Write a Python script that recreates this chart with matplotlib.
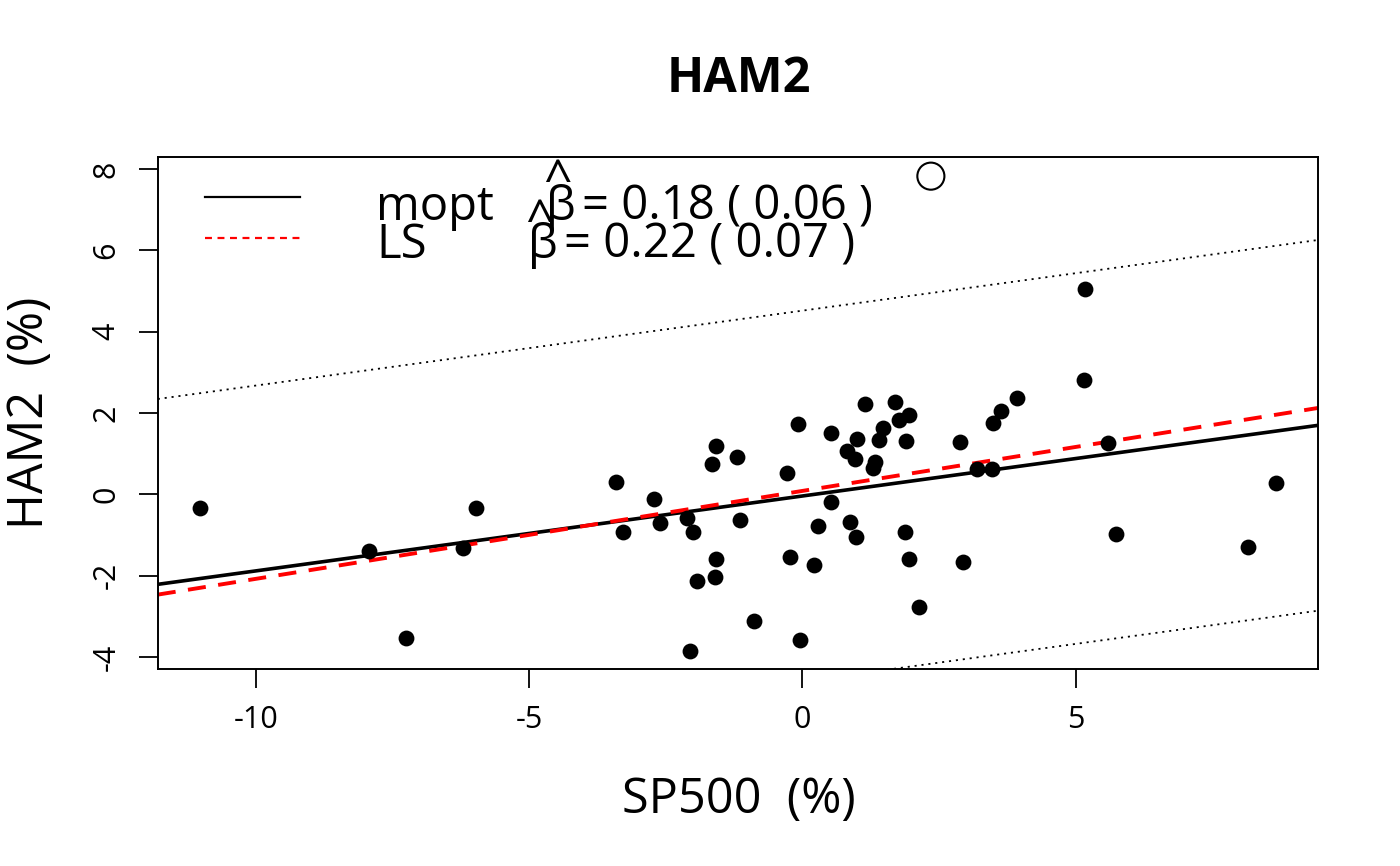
import matplotlib
matplotlib.use('Agg')
import matplotlib.pyplot as plt
from matplotlib.lines import Line2D
import numpy as np

# monthly returns (%)
sp500 = [-11.03, -7.94, -7.26, -6.21, -5.98, -3.42, -3.28, -2.71, -2.60, -2.12,
         -2.00, -1.59, -1.65, -1.19, -1.15, -1.59, -1.60, -1.93, -0.89, -2.06,
         -0.08, -0.28, 0.52, 1.15, 1.70, 1.95, 1.77, 1.48, 1.40, 1.89,
         0.99, 0.82, 0.96, 1.33, 1.29, 0.52, 0.29, 0.87, 0.98, 1.88,
         1.95, -0.23, 0.21, 2.14, -0.05, 5.18, 5.16, 3.93, 3.63, 3.49,
         2.89, 3.20, 3.47, 5.60, 8.67, 5.74, 8.16, 2.94]
ham2 = [-0.33, -1.39, -3.53, -1.32, -0.33, 0.31, -0.93, -0.12, -0.71, -0.59,
        -0.93, 1.19, 0.74, 0.93, -0.63, -1.59, -2.03, -2.13, -3.11, -3.84,
        1.72, 0.53, 1.50, 2.22, 2.28, 1.94, 1.83, 1.64, 1.33, 1.32,
        1.37, 1.07, 0.87, 0.80, 0.66, -0.18, -0.77, -0.67, -1.06, -0.92,
        -1.58, -1.53, -1.74, -2.76, -3.58, 5.05, 2.80, 2.38, 2.05, 1.76,
        1.29, 0.62, 0.62, 1.27, 0.29, -0.98, -1.29, -1.65]

# flagged outlier
outlier_x = [2.35]
outlier_y = [7.82]

# fitted lines (intercept, slope)
mopt_fit = [-0.04, 0.184]
ls_fit = [0.085, 0.216]
band = 4.555

legend_names = ['mopt', 'LS']
beta_values = ['= 0.18 ( 0.06 )', '= 0.22 ( 0.07 )']

plt.rcParams['font.family'] = ['Open Sans', 'DejaVu Sans']
plt.rcParams['lines.scale_dashes'] = False

fig = plt.figure(figsize=(14, 8.66), dpi=100)
ax = fig.add_axes([0.1127, 0.2271, 0.8289, 0.5911])

ax.scatter(sp500, ham2, s=130, c='black', zorder=3, linewidths=0)
ax.scatter(outlier_x, outlier_y, s=380, facecolors='none', edgecolors='black',
           linewidths=1.5, zorder=3)

ax.set_xlim(-11.80, 9.44)
ax.set_ylim(-4.30, 8.28)
xs = np.array(ax.get_xlim())

ax.plot(xs, mopt_fit[0] + mopt_fit[1] * xs, color='black', lw=2.6, zorder=2)
ax.plot(xs, ls_fit[0] + ls_fit[1] * xs, color='red', lw=2.8, dashes=(13, 9), zorder=2)
ax.plot(xs, mopt_fit[0] + band + mopt_fit[1] * xs, color='black', lw=1.3,
        dashes=(1.5, 3.5))
ax.plot(xs, mopt_fit[0] - band + mopt_fit[1] * xs, color='black', lw=1.3,
        dashes=(1.5, 3.5))

ax.set_xticks([-10, -5, 0, 5])
ax.set_xticklabels(['-10', '-5', '0', '5'])
ax.set_yticks([-4, -2, 0, 2, 4, 6, 8])
ax.set_yticklabels(['-4', '-2', '0', '2', '4', '6', '8'], rotation=90, va='center')
ax.tick_params(direction='out', length=14, width=1.3, labelsize=22, pad=12)
for sp in ax.spines.values():
    sp.set_linewidth(1.4)

# titles and axis labels
fig.text(0.528, 1 - 79 / 866, 'HAM2', fontsize=35, fontweight='bold',
         ha='center', va='center')
fig.text(0.528, 1 - 800 / 866, 'SP500  (%)', fontsize=35, ha='center', va='center')
fig.text(30 / 1400, 1 - 413 / 866, 'HAM2  (%)', fontsize=35, rotation=90,
         ha='center', va='center')

# legend, drawn by hand like R's legend(bty="n")
fig.add_artist(Line2D([205 / 1400, 300 / 1400], [1 - 197 / 866] * 2,
                      color='black', lw=1.6))
fig.add_artist(Line2D([205 / 1400, 300 / 1400], [1 - 238 / 866] * 2,
                      color='red', lw=1.6, dashes=(5, 4)))
fig.text(376 / 1400, 1 - 207 / 866, legend_names[0], fontsize=34, va='center')
fig.text(376 / 1400, 1 - 245 / 866, legend_names[1], fontsize=34, va='center')
fig.text(546 / 1400, 1 - 207 / 866, 'β', fontsize=34, va='center')
fig.text(528 / 1400, 1 - 245 / 866, 'β', fontsize=34, va='center')
fig.text(582 / 1400, 1 - 207 / 866, beta_values[0], fontsize=34, va='center')
fig.text(564 / 1400, 1 - 245 / 866, beta_values[1], fontsize=34, va='center')
fig.text(557 / 1400, 1 - 182 / 866, '^', fontsize=36, ha='center', va='center')
fig.text(539 / 1400, 1 - 222 / 866, '^', fontsize=36, ha='center', va='center')

fig.savefig('out.png', dpi=100)
